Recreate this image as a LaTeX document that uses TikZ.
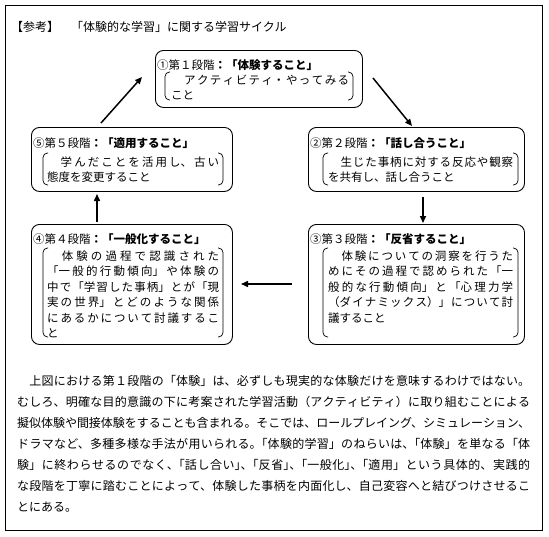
\documentclass[tikz,border=0pt]{standalone}
\usepackage{fontspec}
\setmainfont{Noto Sans CJK JP}
\usetikzlibrary{arrows.meta}
\newcommand{\hk}{\kern-.5em}
\newcommand{\jtext}[3]{\parbox[t]{#1}{\fontsize{#2}{15.5}\selectfont\XeTeXlinebreaklocale "ja"\XeTeXlinebreakskip=0pt plus 4pt minus .5pt\relax #3}}
\newcommand{\brk}[4]{\draw[bracket] (#1+5,#3) -- (#1,#3) -- (#1,#4) -- (#1+5,#4);
  \draw[bracket] (#2-5,#3) -- (#2,#3) -- (#2,#4) -- (#2-5,#4);}
\tikzset{
  stage/.style={draw, rounded corners=8pt, line width=0.9pt, inner sep=0pt, anchor=north west},
  bracket/.style={line width=0.7pt, rounded corners=4.5pt},
  stitle/.style={anchor=base west, inner sep=0pt, font=\fontsize{11.5}{14}\selectfont},
  stext/.style={anchor=base west, inner sep=0pt},
  flow/.style={line width=1.5pt, -{Triangle[length=7pt,width=6pt]}}
}
\begin{document}
\begin{tikzpicture}[x=1pt,y=-1pt]
\useasboundingbox (0,0) rectangle (549,536);
\fill[white] (0,0) rectangle (549,536);
\node[draw, line width=1pt, minimum width=537pt, minimum height=525pt, inner sep=0pt, anchor=north west] (frame) at (5,5) {};
\node[anchor=base west, inner sep=0pt, font=\fontsize{12}{14}\selectfont] (title) at (11,31.6) {【参考】　「体験的な学習」に関する学習サイクル};

% stage boxes
\node[stage, minimum width=207pt, minimum height=57pt] (s1) at (155,50) {};
\node[stage, minimum width=201pt, minimum height=64pt] (s5) at (31,127) {};
\node[stage, minimum width=216pt, minimum height=64pt] (s2) at (308,127) {};
\node[stage, minimum width=201pt, minimum height=120pt] (s4) at (31,224) {};
\node[stage, minimum width=216pt, minimum height=120pt] (s3) at (308,224) {};

% titles
\node[stitle] (t1) at (157,69.4) {①第１段階\textbf{：「体験すること」}};
\node[stitle] (t5) at (33,147.4) {⑤第５段階\textbf{：「適用すること」}};
\node[stitle] (t2) at (310,147.4) {②第２段階\textbf{：「話し合うこと」}};
\node[stitle] (t4) at (33,243.4) {④第４段階\textbf{：「一般化すること」}};
\node[stitle] (t3) at (310,243.4) {③第３段階\textbf{：「反省すること」}};

% brackets
\brk{165}{353}{72}{100}
\brk{43}{223}{153}{185}
\brk{323}{518}{153}{185}
\brk{43}{223}{248}{337}
\brk{323}{518}{248}{337}

% texts
\node[stext] (x1) at (171,84.4) {\jtext{178pt}{11.5}{　アクティビティ・やってみる\linebreak こと}};
\node[stext] (x5) at (47,166.4) {\jtext{172pt}{11.5}{　学んだことを活用し、古い\linebreak 態度を変更すること}};
\node[stext] (x2) at (328,166.4) {\jtext{185pt}{11.5}{　生じた事柄に対する反応や観察\linebreak を共有し、話し合うこと}};
\node[stext] (x4) at (47,260.4) {\jtext{172pt}{11.5}{　体験の過程で認識された\linebreak「一般的行動傾向」や体験の\linebreak 中で「学習した事柄」とが「現\linebreak 実の世界」とどのような関係\linebreak にあるかについて討議するこ\linebreak と}};
\node[stext] (x3) at (328,260.4) {\jtext{185pt}{11.5}{　体験についての洞察を行うた\linebreak めにその過程で認められた「一\linebreak 般的な行動傾向」と「心理力学\linebreak （ダイナミックス）」について討\linebreak 議すること}};

% arrows
\coordinate (a51s) at (101,123); \coordinate (a51e) at (142,77);
\coordinate (a12s) at (373,78);  \coordinate (a12e) at (412,126);
\coordinate (a23s) at (423,197); \coordinate (a23e) at (423,223);
\coordinate (a34s) at (292,284); \coordinate (a34e) at (241,284);
\coordinate (a45s) at (97,222);  \coordinate (a45e) at (97,194);
\draw[flow] (a51s) -- (a51e);
\draw[flow] (a12s) -- (a12e);
\draw[flow] (a23s) -- (a23e);
\draw[flow] (a34s) -- (a34e);
\draw[flow] (a45s) -- (a45e);

% paragraph
\node[stext] (para) at (17,385.6) {\parbox[t]{513pt}{\fontsize{12}{21}\selectfont\XeTeXlinebreaklocale "ja"\XeTeXlinebreakskip=0pt plus 4pt minus .5pt\relax
　上図における第１段階の「体験」は、必ずしも現実的な体験だけを意味するわけではない。\linebreak
むしろ、明確な目的意識の下に考案された学習活動（アクティビティ）に取り組むことによる\linebreak
擬似体験や間接体験をすることも含まれる。そこでは、ロールプレイング、シミュレーション、\linebreak
ドラマなど、多種多様な手法が用いられる。\hk「体験的学習」のねらいは、\hk「体験」を単なる「体\linebreak
験」に終わらせるのでなく、\hk「話し合い」\hk、\hk「反省」\hk、\hk「一般化」\hk、\hk「適用」という具体的、実践的\linebreak
な段階を丁寧に踏むことによって、体験した事柄を内面化し、自己変容へと結びつけさせるこ\linebreak
とにある。}};
\end{tikzpicture}
\end{document}
